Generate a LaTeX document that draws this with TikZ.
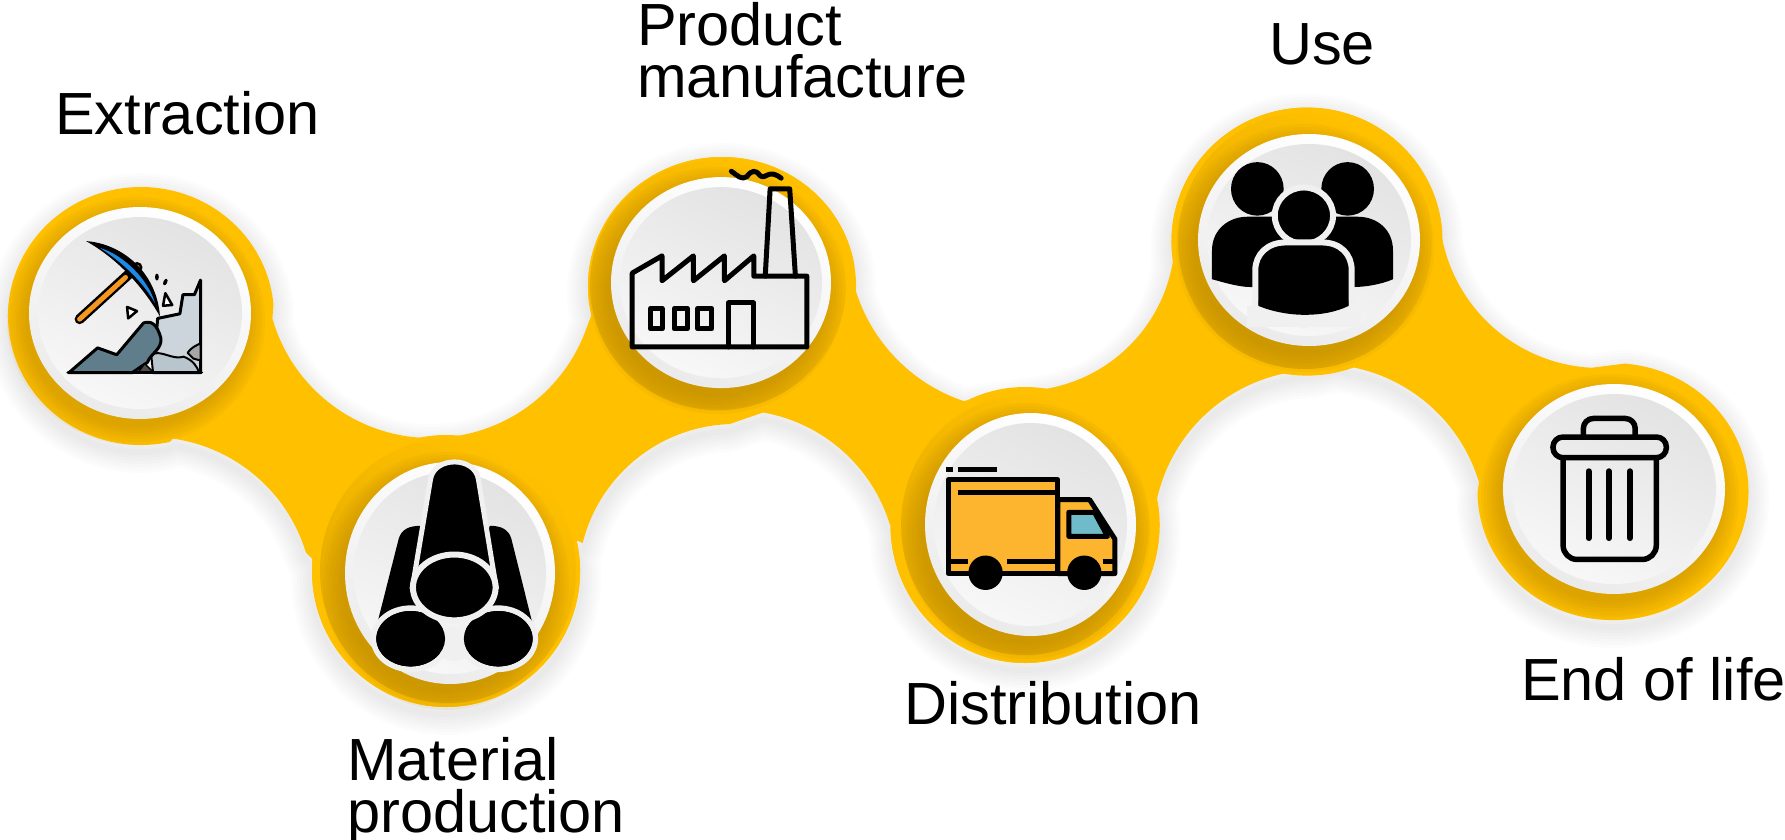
\documentclass[tikz,border=0pt]{standalone}
\usepackage{fontspec}
\setmainfont{Liberation Sans}
\definecolor{bandy}{HTML}{FFC000}
\definecolor{bandd}{HTML}{B88400}
\definecolor{truckc}{HTML}{FDB52F}
\definecolor{discgap}{HTML}{F0F0F0}
\definecolor{rockd}{HTML}{607D8B}
\definecolor{rockl}{HTML}{CBD5DB}
\definecolor{rockm}{HTML}{B9C5CC}
\definecolor{pickblue}{HTML}{1E88E5}
\definecolor{pickor}{HTML}{F5961E}
\definecolor{glass}{HTML}{6FBBC9}
\newcommand{\EA}[6]{-- ({#1+#3*cos(#5)},{#2+#4*sin(#5)}) arc[start angle=#5,end angle=#6,x radius=#3,y radius=#4]}
\newcommand{\bandoutline}{(171,441)
 \EA{141}{316}{133}{129}{78}{355}
 \EA{431}{273}{165}{165}{164}{19}
 \EA{722}{286}{134}{129}{167}{350}
 \EA{1018}{240}{170}{170}{163.5}{108.7}
 \EA{1020}{236}{155}{155}{80}{8}
 \EA{1307}{241.6}{135.5}{134}{168}{356}
 \EA{1600}{207}{161}{161}{170.5}{93}
 \EA{1613}{491.6}{135.5}{128.5}{275}{540}
 \EA{1320}{530}{166}{166}{343.4}{275}
 \EA{1318}{535}{165}{165}{268}{190}
 \EA{1025}{525}{134.5}{138}{-8}{180}
 \EA{735}{572}{162}{162}{343}{280}
 \EA{735}{581}{157}{157}{268}{194}
 \EA{446}{571}{134}{136}{-13}{185}
 \EA{150}{600}{163}{163}{343}{278} -- cycle}
\newcommand{\halo}[4]{%
 \foreach \d in {0,3,6,9,12,15,18}{
  \fill[bandd,opacity=.08] (#1-4,#2+8) ellipse [x radius=#3+\d,y radius=#4+\d];}
}
\newcommand{\disc}[4]{%
 \shade[top color=white,bottom color=black!8,shading angle=-25] (#1,#2) ellipse [x radius=#3,y radius=#4];
 \shade[top color=black!11,bottom color=black!3,shading angle=-25] (#1,#2) ellipse [x radius=#3-9,y radius=#4-10];
}
\tikzset{
 label text/.style={inner sep=0pt,anchor=base west,align=left,font=\fontsize{59.5}{51.5}\selectfont},
 ink/.style={draw=black,line join=round,line cap=round},
 crescent/.style={top color=bandy,bottom color=bandy!88!black,shading angle=-30},
}
\begin{document}
\begin{tikzpicture}[x=1pt,y=1pt,yscale=-1]
\useasboundingbox (0,0) rectangle (1785,839);
% soft shadow
\foreach \w in {6,12,18,24,30,36,42}{
 \draw[black,opacity=.012,line width=\w pt,line join=round,yshift=7pt] \bandoutline;}
% band
\fill[bandy] \bandoutline;
% outer discs
\fill[bandy] (446,571) ellipse [x radius=134,y radius=136];
\fill[bandy] (722,286) ellipse [x radius=134,y radius=129];
\fill[bandy] (1025,525) ellipse [x radius=134.5,y radius=138];
\fill[bandy] (1307,241.6) ellipse [x radius=135.5,y radius=134];
% second, darker rims
\shade[crescent] (448,571) ellipse [x radius=128,y radius=132];
\shade[crescent] (718,285) ellipse [x radius=128,y radius=125];
\shade[crescent] (1025,525) ellipse [x radius=124,y radius=130];
\shade[crescent] (1305,241) ellipse [x radius=127,y radius=128];
% halos and discs
\halo{140}{313}{111}{106}\disc{140}{313}{111}{106}
\halo{450}{573}{105}{111}\disc{450}{573}{105}{111}
\halo{721}{282.6}{110}{105.5}\disc{721}{282.6}{110}{105.5}
\halo{1030.5}{524.5}{105.5}{111.5}\disc{1030.5}{524.5}{105.5}{111.5}
\halo{1309}{240}{111}{106}\disc{1309}{240}{111}{106}
\halo{1614}{489}{111}{105}\disc{1614}{489}{111}{105}
% ---- pickaxe
\begin{scope}[shift={(0,150)},scale=0.3827]
 \filldraw[fill=rockl,ink,line width=3pt] (412,440) -- (470,428) -- (478,378) -- (508,378) -- (524,340) -- (524,582) -- (400,582) -- cycle;
 \filldraw[fill=rockm,ink,line width=2pt] (395,535) .. controls (420,520) and (450,550) .. (480,540) .. controls (505,550) and (515,565) .. (520,582) -- (400,582) -- cycle;
 \filldraw[fill=black!35!white,ink,line width=2pt] (490,530) .. controls (500,515) and (515,510) .. (524,505) -- (524,550) -- (505,545) -- cycle;
 \filldraw[fill=rockd,ink,line width=3pt] (180,582) -- (255,517) -- (305,535) -- (375,452) .. controls (395,445) and (410,455) .. (420,490) .. controls (425,520) and (395,530) .. (385,555) -- (345,582) -- cycle;
 \filldraw[fill=black!70!white,ink,line width=1.5pt] (360,582) -- (378,558) -- (402,582) -- cycle;
 \draw[ink,line width=3.5pt] (178,582) -- (526,582);
 \draw[black,line width=10pt,line cap=round] (208,442) -- (335,326);
 \draw[pickor,line width=5pt,line cap=round] (208,442) -- (328,333);
 \filldraw[fill=pickor,ink,line width=2.5pt] (358,307) circle [radius=11];
 \fill[black] (225,238) .. controls (320,245) and (410,320) .. (418,435) .. controls (370,350) and (300,280) .. cycle;
 \fill[pickblue] (262,256) .. controls (325,275) and (388,340) .. (405,400) .. controls (370,340) and (320,295) .. cycle;
 \filldraw[fill=white,ink,line width=2.5pt] (332,410) -- (358,421) -- (335,440) -- cycle;
 \filldraw[fill=white,ink,line width=2.5pt] (432,374) -- (450,405) -- (426,407) -- cycle;
 \fill[black] (410,332) ellipse [x radius=5,y radius=9];
 \fill[black,rotate around={25:(432,345)}] (432,345) ellipse [x radius=5,y radius=9];
\end{scope}
% ---- pipes
\begin{scope}[shift={(0,150)},scale=0.3827]
 \fill[black] (985,1240) -- (1042,1015) .. controls (1050,990) and (1070,982) .. (1100,982) -- (1180,1200) -- cycle;
 \fill[black] (1392,1240) -- (1336,1015) .. controls (1328,990) and (1308,982) .. (1280,982) -- (1200,1200) -- cycle;
 \filldraw[fill=black,draw=discgap,line width=5.5pt] (1073,1277) ellipse [x radius=97,y radius=80];
 \filldraw[fill=black,draw=discgap,line width=5.5pt] (1302,1277) ellipse [x radius=97,y radius=80];
 \fill[discgap] (1187,1290) circle [radius=45];
 \fill[black] (1073,1277) ellipse [x radius=90,y radius=72];
 \fill[black] (1302,1277) ellipse [x radius=90,y radius=72];
 \filldraw[fill=black,draw=discgap,line width=5pt] (1078,1140) -- (1125,860) .. controls (1135,800) and (1240,800) .. (1250,860) -- (1296,1140) -- cycle;
 \filldraw[fill=black,draw=discgap,line width=6pt] (1187,1143) ellipse [x radius=108,y radius=86];
\end{scope}
% ---- factory
\begin{scope}[shift={(560,120)},xscale=0.408,yscale=0.3827]
 \draw[ink,line width=5pt] (177,593) -- (177,400) -- (250,355) -- (250,420) -- (327,355) -- (327,420) -- (403,355) -- (403,420) -- (475,355) -- (475,408) -- (605,408) -- (605,593) -- cycle;
 \draw[ink,line width=5pt] (503,408) -- (515,180) -- (563,180) -- (577,408);
 \draw[ink,line width=5pt] (222,492) rectangle (250,546);
 \draw[ink,line width=5pt] (280,492) rectangle (312,546);
 \draw[ink,line width=5pt] (338,492) rectangle (372,546);
 \draw[ink,line width=5pt] (413,593) -- (413,478) -- (474,478) -- (474,593);
 \draw[ink,line width=5pt] (420,134) .. controls (435,145) and (445,158) .. (458,148) .. controls (470,130) and (480,130) .. (490,145) .. controls (505,158) and (510,125) .. (542,152);
\end{scope}
% ---- truck
\begin{scope}[shift={(560,120)},xscale=0.408,yscale=0.3827]
 \filldraw[fill=truckc,ink,line width=5pt] (952,940) rectangle (1220,1185);
 \filldraw[fill=truckc,ink,line width=5pt] (1220,992) -- (1298,992) -- (1360,1095) -- (1360,1185) -- (1220,1185) -- cycle;
 \filldraw[fill=glass,ink,line width=5pt] (1247,1025) -- (1310,1025) -- (1342,1088) -- (1247,1088) -- cycle;
 \draw[black,line width=5pt] (975,972) -- (1215,972);
 \draw[black,line width=5pt] (952,1153) -- (1000,1153);
 \draw[black,line width=5pt] (1095,1153) -- (1220,1153);
 \draw[black,line width=5pt] (1330,1153) -- (1358,1153);
 \fill[black] (1043,1183) ellipse [x radius=42,y radius=45];
 \fill[black] (1285,1183) ellipse [x radius=42,y radius=45];
 \draw[black,line width=5pt] (946,912) -- (962,912);
 \draw[black,line width=5pt] (975,912) -- (1072,912);
\end{scope}
% ---- people
\begin{scope}[shift={(1150,90)},xscale=0.405,yscale=0.357]
 \fill[black] (265,277) ellipse [x radius=65,y radius=75];
 \fill[black] (488,277) ellipse [x radius=65,y radius=75];
 \fill[black] (153,530) -- (153,450) .. controls (153,390) and (195,355) .. (240,355) -- (513,355) .. controls (560,355) and (600,390) .. (600,450) -- (600,530) .. controls (570,545) and (530,552) .. (500,552) -- (250,552) .. controls (220,552) and (185,540) .. (153,530) -- cycle;
 \filldraw[fill=black,draw=discgap,line width=6pt] (380,352) ellipse [x radius=72,y radius=79];
 \filldraw[fill=black,draw=discgap,line width=6pt] (260,610) -- (260,505) .. controls (260,460) and (290,427) .. (335,427) -- (425,427) .. controls (470,427) and (498,460) .. (498,505) -- (498,610) -- (380,660) -- cycle;
 \fill[discgap] (240,606) rectangle (520,665);
 \fill[black] (268,605) .. controls (340,638) and (430,638) .. (490,605) -- (490,590) -- (268,590) -- cycle;
\end{scope}
% ---- bin
\begin{scope}[shift={(1150,90)},xscale=0.405,yscale=0.357]
 \draw[ink,line width=5.5pt,rounded corners=10pt] (1070,972) -- (1070,920) -- (1198,920) -- (1198,972);
 \draw[ink,line width=5.5pt,rounded corners=10pt] (995,972) rectangle (1275,1030);
 \draw[ink,line width=5.5pt,rounded corners=14pt] (1020,1030) -- (1020,1315) -- (1250,1315) -- (1250,1030);
 \draw[ink,line width=6pt] (1083,1068) -- (1083,1255);
 \draw[ink,line width=6pt] (1133,1068) -- (1133,1255);
 \draw[ink,line width=6pt] (1185,1068) -- (1185,1255);
\end{scope}
% ---- labels
\node[label text] (extraction) at (55,134) {Extraction};
\node[label text] (material) at (347,832) {Material\\production};
\node[label text] (product) at (637,97) {Product\\manufacture};
\node[label text] (distribution) at (904,724) {Distribution};
\node[label text] (use) at (1269,64) {Use};
\node[label text] (endlife) at (1521,700) {End of life};
\end{tikzpicture}
\end{document}
